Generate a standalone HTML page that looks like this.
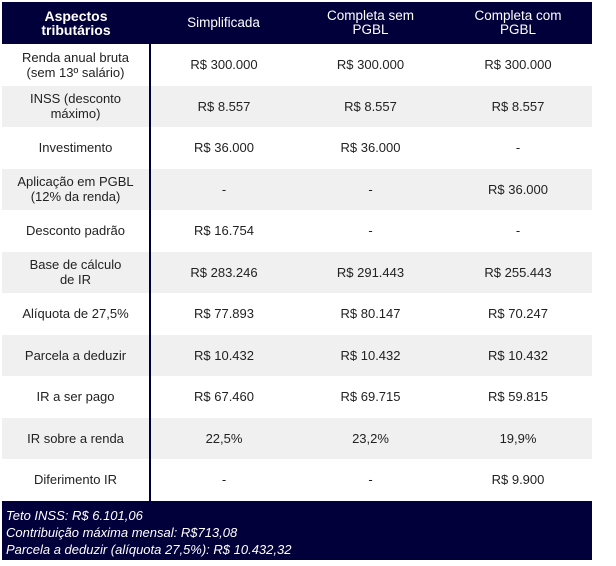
<!DOCTYPE html>
<html><head><meta charset="utf-8"><style>
body{margin:0;width:616px;height:566px;background:#fff;font-family:"Liberation Sans",sans-serif;}
#t{position:absolute;left:2px;top:2px;width:590px;}
table{border-collapse:collapse;width:590px;table-layout:fixed;font-size:13px;color:#222;}
th{background:#01003a;color:#fff;font-weight:normal;height:42px;padding:0;font-size:13.5px;line-height:14px;}
th.f{font-weight:bold;font-size:14px;}
td{text-align:center;height:41.5px;padding:0;line-height:15px;}
td:first-child{border-right:2px solid #01003a;}
tr.g td{background:#f0f0f0;}
.foot{background:#01003a;color:#fff;font-style:italic;font-size:13px;line-height:17px;padding:6px 4px 2px;height:51px;}
</style></head><body>
<div id="t">
<table>
<colgroup><col style="width:148px"><col style="width:147px"><col style="width:147px"><col style="width:148px"></colgroup>
<tr><th class="f">Aspectos<br>tributários</th><th>Simplificada</th><th>Completa sem<br>PGBL</th><th>Completa com<br>PGBL</th></tr>
<tr><td>Renda anual bruta<br>(sem 13º salário)</td><td>R$ 300.000</td><td>R$ 300.000</td><td>R$ 300.000</td></tr>
<tr class="g"><td>INSS (desconto<br>máximo)</td><td>R$ 8.557</td><td>R$ 8.557</td><td>R$ 8.557</td></tr>
<tr><td>Investimento</td><td>R$ 36.000</td><td>R$ 36.000</td><td>-</td></tr>
<tr class="g"><td>Aplicação em PGBL<br>(12% da renda)</td><td>-</td><td>-</td><td>R$ 36.000</td></tr>
<tr><td>Desconto padrão</td><td>R$ 16.754</td><td>-</td><td>-</td></tr>
<tr class="g"><td>Base de cálculo<br>de IR</td><td>R$ 283.246</td><td>R$ 291.443</td><td>R$ 255.443</td></tr>
<tr><td>Alíquota de 27,5%</td><td>R$ 77.893</td><td>R$ 80.147</td><td>R$ 70.247</td></tr>
<tr class="g"><td>Parcela a deduzir</td><td>R$ 10.432</td><td>R$ 10.432</td><td>R$ 10.432</td></tr>
<tr><td>IR a ser pago</td><td>R$ 67.460</td><td>R$ 69.715</td><td>R$ 59.815</td></tr>
<tr class="g"><td>IR sobre a renda</td><td>22,5%</td><td>23,2%</td><td>19,9%</td></tr>
<tr><td>Diferimento IR</td><td>-</td><td>-</td><td>R$ 9.900</td></tr>
</table>
<div class="foot">Teto INSS: R$ 6.101,06<br>Contribuição máxima mensal: R$713,08<br>Parcela a deduzir (alíquota 27,5%): R$ 10.432,32</div>
</div>
</body></html>
